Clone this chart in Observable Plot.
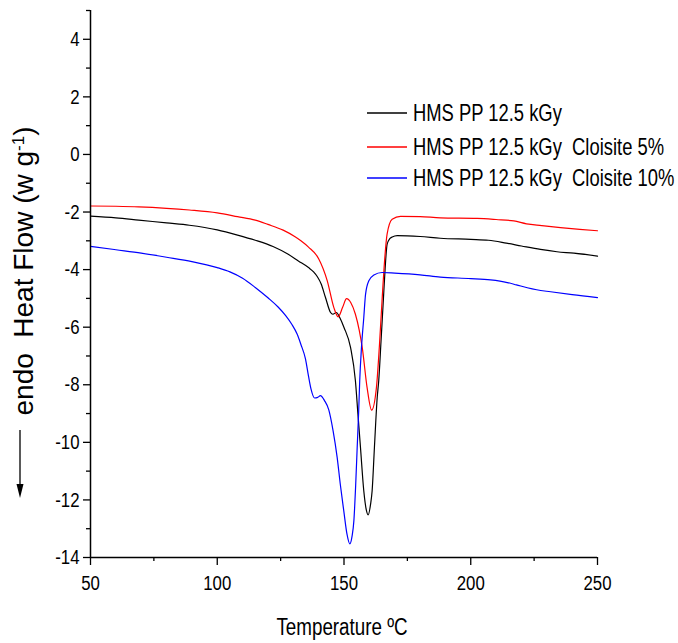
<!DOCTYPE html>
<html>
<head>
<meta charset="utf-8">
<script src="https://cdn.jsdelivr.net/npm/d3@7"></script>
<script src="https://cdn.jsdelivr.net/npm/@observablehq/plot@0.6"></script>
<style>
  html, body { margin: 0; padding: 0; background: #fff; }
  #chart { width: 678px; height: 643px; }
</style>
</head>
<body>
<div id="chart"></div>
<script>
// ---- data ----
const seriesNames = ["HMS PP 12.5 kGy", "HMS PP 12.5 kGy  Cloisite 5%", "HMS PP 12.5 kGy  Cloisite 10%"];
const seriesColors = ["#000000", "#ff0000", "#0000ff"];

const blackT = [50, 60, 69, 80, 89, 100, 108, 115, 122, 128, 132, 136, 138, 139.5, 141, 142.7, 144.7, 145.6, 147, 148.5, 150, 152.6, 154.5, 155.5, 156.5, 157.8, 158.8, 159.5, 160.5, 161.1, 162, 163.1, 163.7, 164.6, 165.5, 166.2, 167, 168, 169, 171, 180, 188, 200, 207, 214, 220, 227.5, 234, 240.7, 250];
const blackH = [-2.14, -2.2, -2.28, -2.38, -2.46, -2.62, -2.8, -2.98, -3.2, -3.47, -3.7, -3.93, -4.08, -4.25, -4.5, -4.97, -5.49, -5.55, -5.49, -5.7, -6.01, -6.71, -7.86, -9.02, -10.18, -11.68, -12.35, -12.52, -12.14, -11.68, -10.18, -8.44, -7.86, -6.5, -5.09, -4.0, -3.12, -2.93, -2.87, -2.82, -2.85, -2.91, -2.95, -2.98, -3.08, -3.18, -3.3, -3.38, -3.43, -3.53];

const redT = [50, 60, 69, 80, 89, 100, 108, 115, 120, 126, 130.7, 133, 136, 140, 143.4, 146, 147.7, 149.5, 151, 152.7, 154.5, 156, 157.2, 159.1, 160.9, 162.8, 164, 165, 166, 167, 169, 172.3, 180, 188, 202.5, 210, 217, 222, 228, 235.4, 243, 250];
const redH = [-1.79, -1.8, -1.82, -1.87, -1.93, -2.03, -2.16, -2.28, -2.43, -2.63, -2.86, -3.0, -3.22, -3.62, -4.39, -5.32, -5.64, -5.3, -5.01, -5.15, -5.55, -6.1, -6.71, -8.09, -8.88, -8.09, -6.6, -5.09, -3.7, -2.77, -2.25, -2.15, -2.16, -2.2, -2.22, -2.26, -2.31, -2.41, -2.47, -2.54, -2.6, -2.65];

const blueT = [50, 60, 70, 80, 90, 100, 105, 110, 115, 120, 124, 127, 129.4, 131.5, 133, 134.8, 136, 137, 138.4, 139.6, 140.7, 142.3, 144, 145.7, 147.3, 148.6, 149.9, 151.2, 152.3, 153.2, 153.9, 154.6, 155.2, 155.8, 156.2, 156.9, 157.8, 158.5, 159.8, 161.8, 165, 170, 180, 188, 200, 207.8, 214.4, 218, 222.3, 226, 231.5, 240, 250];
const blueH = [-3.19, -3.31, -3.43, -3.57, -3.72, -3.93, -4.08, -4.3, -4.62, -4.98, -5.3, -5.6, -5.9, -6.24, -6.6, -7.1, -7.7, -8.15, -8.46, -8.44, -8.38, -8.55, -8.87, -9.6, -10.52, -11.5, -12.37, -13.2, -13.53, -13.25, -12.72, -11.5, -10.18, -8.9, -7.86, -6.7, -5.67, -4.86, -4.39, -4.19, -4.1, -4.12, -4.18, -4.26, -4.31, -4.36, -4.45, -4.53, -4.63, -4.7, -4.77, -4.87, -4.97];

const xMajorTicks = [50, 100, 150, 200, 250];
const xMinorTicks = [75, 125, 175, 225];
const yMajorTicks = [-14, -12, -10, -8, -6, -4, -2, 0, 2, 4];
const yMinorTicks = [-13, -11, -9, -7, -5, -3, -1, 1, 3, 5];

const xTitle = "Temperature ºC";

// ---- build table ----
const allT = [blackT, redT, blueT];
const allH = [blackH, redH, blueH];
const rows = [];
seriesNames.forEach((name, i) => {
  allT[i].forEach((t, j) => rows.push({series: name, t, h: allH[i][j]}));
});

const font = "'Liberation Sans', Arial, sans-serif";
const squeeze = 0.8; // the reference uses a condensed face

const chart = Plot.plot({
  width: 678,
  height: 643,
  marginLeft: 90,
  marginRight: 81,
  marginTop: 10,
  marginBottom: 86,
  style: {fontFamily: font, fontSize: "21px", color: "#000", background: "#fff", overflow: "visible"},
  x: {domain: [50, 250]},
  y: {domain: [-14, 5]},
  color: {domain: seriesNames, range: seriesColors},
  marks: [
    Plot.axisX({ticks: xMajorTicks, tickSize: 8, tickPadding: 10, label: null, tickFormat: d => String(d), strokeWidth: 1.3, fontSize: 21}),
    Plot.axisX({ticks: xMinorTicks, tickSize: 4, text: null, label: null, strokeWidth: 1.3}),
    Plot.axisY({ticks: yMajorTicks, tickSize: 7, tickPadding: 4, label: null, tickFormat: d => String(d), strokeWidth: 1.3, fontSize: 21}),
    Plot.axisY({ticks: yMinorTicks, tickSize: 4, text: null, label: null, strokeWidth: 1.3}),
    Plot.line(rows, {x: "t", y: "h", z: "series", stroke: "series", strokeWidth: 1.2, curve: "monotone-x"}),
    Plot.ruleX([50], {y1: -14, y2: 5, stroke: "#000", strokeWidth: 1.5}),
    Plot.ruleY([-14], {stroke: "#000", strokeWidth: 1.5})
  ]
});

document.getElementById("chart").appendChild(chart);

const svg = d3.select(chart);

// condense tick labels horizontally around their anchor point
svg.selectAll('g[aria-label$="tick label"] text').each(function () {
  const t = this.getAttribute("transform");
  if (t) {
    this.setAttribute("transform", t + ` scale(${squeeze},1)`);
  } else {
    const x = +(this.getAttribute("x") || 0);
    this.setAttribute("x", x / squeeze);
    this.setAttribute("transform", `scale(${squeeze},1)`);
  }
});

// x title
svg.append("text")
  .attr("transform", `translate(342,635) scale(0.8,1)`)
  .attr("text-anchor", "middle")
  .style("font-family", font).style("font-size", "23.5px")
  .text(xTitle);

// y title
const yl = svg.append("text")
  .attr("transform", "translate(33,271) rotate(-90)")
  .attr("text-anchor", "middle")
  .style("font-family", font).style("font-size", "28px")
  .style("white-space", "pre").attr("xml:space", "preserve");
yl.append("tspan").text("endo  Heat Flow (w g");
yl.append("tspan").attr("baseline-shift", "super").style("font-size", "17px").text("-1");
yl.append("tspan").text(")");

// arrow (endo down)
svg.append("line").attr("x1", 20).attr("x2", 20).attr("y1", 430).attr("y2", 486)
  .attr("stroke", "#000").attr("stroke-width", 1.3);
svg.append("path").attr("d", "M16.5,484 L23.5,484 L20,498 Z").attr("fill", "#000");

// legend
const legendRows = [113, 147, 178];
seriesNames.forEach((name, i) => {
  const g = svg.append("g");
  g.append("line").attr("x1", 367).attr("x2", 407).attr("y1", legendRows[i]).attr("y2", legendRows[i])
    .attr("stroke", seriesColors[i]).attr("stroke-width", 1.3);
  g.append("text")
    .attr("transform", `translate(413,${legendRows[i]}) scale(0.8,1)`)
    .attr("dy", "0.36em")
    .attr("text-anchor", "start")
    .style("font-family", font).style("font-size", "23px")
    .style("white-space", "pre").attr("xml:space", "preserve")
    .text(name);
});
</script>
</body>
</html>
